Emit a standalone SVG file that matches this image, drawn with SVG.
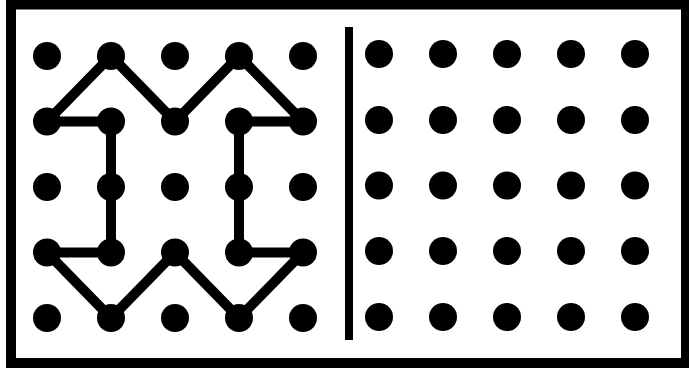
<svg xmlns="http://www.w3.org/2000/svg" width="689" height="374" viewBox="0 0 689 374">
<style>
.dot{fill:#000}
.ln{fill:none;stroke:#000;stroke-width:10;stroke-linejoin:miter}
</style>
<rect x="0" y="0" width="689" height="374" fill="#fff"/>
<rect x="11" y="4.5" width="675" height="358.5" fill="none" stroke="#000" stroke-width="10"/>
<g id="connectors">
<polyline class="ln" points="47,121.5 111,56 175,121.5 239,56 303,121.5 239,121.5 239,187 239,252.5 303,252.5 239,318 175,252.5 111,318 47,252.5 111,252.5 111,187 111,121.5 47,121.5"/>
<line x1="349" y1="27" x2="349" y2="340" stroke="#000" stroke-width="8"/>
</g>
<g id="left-grid">
<circle class="dot" cx="47" cy="56" r="14"/><circle class="dot" cx="111" cy="56" r="14"/><circle class="dot" cx="175" cy="56" r="14"/><circle class="dot" cx="239" cy="56" r="14"/><circle class="dot" cx="303" cy="56" r="14"/>
<circle class="dot" cx="47" cy="121.5" r="14"/><circle class="dot" cx="111" cy="121.5" r="14"/><circle class="dot" cx="175" cy="121.5" r="14"/><circle class="dot" cx="239" cy="121.5" r="14"/><circle class="dot" cx="303" cy="121.5" r="14"/>
<circle class="dot" cx="47" cy="187" r="14"/><circle class="dot" cx="111" cy="187" r="14"/><circle class="dot" cx="175" cy="187" r="14"/><circle class="dot" cx="239" cy="187" r="14"/><circle class="dot" cx="303" cy="187" r="14"/>
<circle class="dot" cx="47" cy="252.5" r="14"/><circle class="dot" cx="111" cy="252.5" r="14"/><circle class="dot" cx="175" cy="252.5" r="14"/><circle class="dot" cx="239" cy="252.5" r="14"/><circle class="dot" cx="303" cy="252.5" r="14"/>
<circle class="dot" cx="47" cy="318" r="14"/><circle class="dot" cx="111" cy="318" r="14"/><circle class="dot" cx="175" cy="318" r="14"/><circle class="dot" cx="239" cy="318" r="14"/><circle class="dot" cx="303" cy="318" r="14"/>
</g>
<g id="right-grid">
<circle class="dot" cx="379" cy="54" r="14"/><circle class="dot" cx="443" cy="54" r="14"/><circle class="dot" cx="507" cy="54" r="14"/><circle class="dot" cx="571" cy="54" r="14"/><circle class="dot" cx="635" cy="54" r="14"/>
<circle class="dot" cx="379" cy="120" r="14"/><circle class="dot" cx="443" cy="120" r="14"/><circle class="dot" cx="507" cy="120" r="14"/><circle class="dot" cx="571" cy="120" r="14"/><circle class="dot" cx="635" cy="120" r="14"/>
<circle class="dot" cx="379" cy="185.5" r="14"/><circle class="dot" cx="443" cy="185.5" r="14"/><circle class="dot" cx="507" cy="185.5" r="14"/><circle class="dot" cx="571" cy="185.5" r="14"/><circle class="dot" cx="635" cy="185.5" r="14"/>
<circle class="dot" cx="379" cy="251" r="14"/><circle class="dot" cx="443" cy="251" r="14"/><circle class="dot" cx="507" cy="251" r="14"/><circle class="dot" cx="571" cy="251" r="14"/><circle class="dot" cx="635" cy="251" r="14"/>
<circle class="dot" cx="379" cy="317" r="14"/><circle class="dot" cx="443" cy="317" r="14"/><circle class="dot" cx="507" cy="317" r="14"/><circle class="dot" cx="571" cy="317" r="14"/><circle class="dot" cx="635" cy="317" r="14"/>
</g>
</svg>
